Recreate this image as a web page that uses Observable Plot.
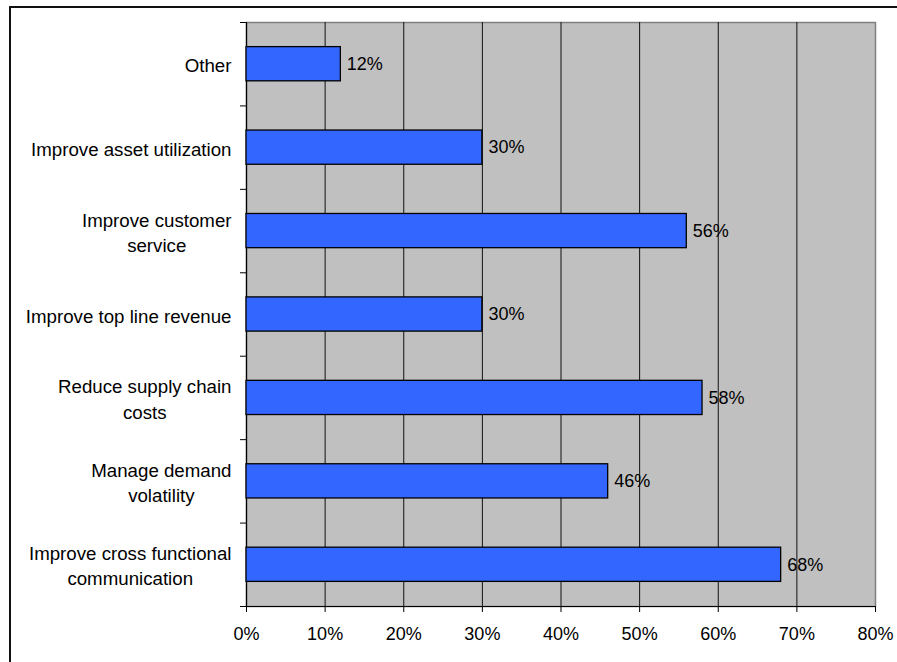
<!DOCTYPE html>
<html>
<head>
<meta charset="utf-8">
<script src="https://cdn.jsdelivr.net/npm/d3@7"></script>
<script src="https://cdn.jsdelivr.net/npm/@observablehq/plot@0.6"></script>
<style>
  html, body { margin: 0; padding: 0; background: #fff; overflow: hidden; }
  #wrap { position: relative; width: 897px; height: 662px; }
  #border { position: absolute; left: 9px; top: 6px; width: 900px; height: 700px;
            border-left: 2px solid #111; border-top: 2px solid #111; }
  #chart { position: absolute; left: 0; top: 0; }
</style>
</head>
<body>
<div id="wrap"><div id="border"></div><div id="chart"></div></div>
<script>
const categories = [
  "Other",
  "Improve asset utilization",
  "Improve customer service",
  "Improve top line revenue",
  "Reduce supply chain costs",
  "Manage demand volatility",
  "Improve cross functional communication"
];
const labels = [
  "Other",
  "Improve asset utilization",
  "Improve customer\nservice",
  "Improve top line revenue",
  "Reduce supply chain\ncosts",
  "Manage demand\nvolatility",
  "Improve cross functional\ncommunication"
];
const values = [0.12, 0.30, 0.56, 0.30, 0.58, 0.46, 0.68];
const xTicks = [0, 0.1, 0.2, 0.3, 0.4, 0.5, 0.6, 0.7, 0.8];

const data = categories.map((c, i) => ({category: c, label: labels[i], value: values[i], i}));
const n = categories.length;

const chart = Plot.plot({
  width: 897,
  height: 662,
  marginLeft: 246,
  marginRight: 22,
  marginTop: 22,
  marginBottom: 56,
  style: {fontSize: "18px", fontFamily: "'Liberation Sans', Arial, sans-serif", color: "#000", background: "transparent", overflow: "visible"},
  x: {domain: [0, 0.8]},
  y: {domain: [0, n], reverse: true},
  marks: [
    Plot.frame({fill: "#c0c0c0", stroke: "#808080", strokeWidth: 1.5}),
    Plot.ruleX(xTicks.slice(1, -1), {stroke: "#111", strokeWidth: 1}),
    Plot.ruleX([0], {stroke: "#000", strokeWidth: 1.2}),
    Plot.ruleY([n], {stroke: "#000", strokeWidth: 1.2}),
    Plot.rectX(data, {
      x1: () => 0, x2: "value",
      y1: d => d.i + 0.295, y2: d => d.i + 0.705,
      fill: "#3366ff", stroke: "#000", strokeWidth: 1.3
    }),
    Plot.text(data, {
      x: "value", y: d => d.i + 0.5,
      text: d => Math.round(d.value * 100) + "%",
      textAnchor: "start", dx: 6, fill: "#000"
    }),
    Plot.text(data, {
      x: () => 0, y: d => d.i + 0.5, text: "label",
      textAnchor: "middle", dx: -15, lineHeight: 1.35, fill: "#000", fontSize: 18.7
    }),
    Plot.axisX({ticks: xTicks, tickFormat: d3.format(".0%"), tickSize: 6, tickPadding: 15, label: null}),
    Plot.axisY({ticks: d3.range(0, n + 1), tickSize: 6, tickFormat: () => "", label: null})
  ]
});

document.getElementById("chart").append(chart);

// Right-align each label block while keeping its lines centred on each other
const labelSet = new Set(labels.map(l => l.replace("\n", "")));
chart.querySelectorAll("text").forEach(t => {
  if (!labelSet.has(t.textContent)) return;
  const w = t.getBBox().width;
  const g = document.createElementNS("http://www.w3.org/2000/svg", "g");
  g.setAttribute("transform", `translate(${-w / 2},0)`);
  t.parentNode.insertBefore(g, t);
  g.appendChild(t);
});
</script>
</body>
</html>
